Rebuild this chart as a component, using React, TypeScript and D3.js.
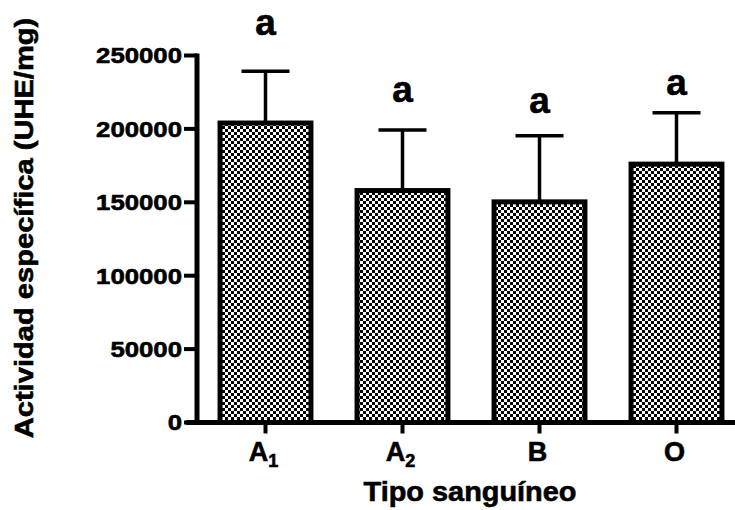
import React from 'react';
import * as d3 from 'd3';

const categories = ['A', 'A', 'B', 'O'];
const subscripts = ['1', '2', '', ''];
const means = [204000, 158000, 150300, 176000];
const sems = [35200, 41200, 45000, 35000];
const letters = ['a', 'a', 'a', 'a'];
const letterValues = [264000, 218200, 211000, 223000];
const yTicks = [0, 50000, 100000, 150000, 200000, 250000];
const yTitle = 'Actividad específica (UHE/mg)';
const xTitle = 'Tipo sanguíneo';

const FONT = "'Liberation Sans', Arial, Helvetica, sans-serif";

export default function App() {
  const W = 735, H = 510;
  const idx = d3.range(categories.length);
  const x = d3.scaleBand<number>().domain(idx).range([197, 745]).paddingInner(0.3).paddingOuter(0.15);
  const y = d3.scaleLinear().domain([0, 250000]).range([422.5, 55.5]);
  const bw = x.bandwidth();
  const axisX = 197;
  const y0 = y(0);
  const ts = { stroke: '#000', strokeWidth: 0.6 };

  return (
    <svg width={W} height={H} style={{ position: 'absolute', left: 0, top: 0, background: '#fff' }} fontFamily={FONT} fontWeight="bold">
      <defs>
        <pattern id="checker" patternUnits="userSpaceOnUse" width={6} height={6}>
          <rect x={0} y={0} width={6} height={6} fill="#fff" />
          <rect x={0} y={0} width={3} height={3} fill="#000" shapeRendering="crispEdges" />
          <rect x={3} y={3} width={3} height={3} fill="#000" shapeRendering="crispEdges" />
        </pattern>
      </defs>
      <rect x={0} y={0} width={W} height={H} fill="#fff" />

      {/* error bars */}
      {idx.map(i => {
        const cx = (x(i) as number) + bw / 2;
        return (
          <g key={'e' + i} stroke="#000" strokeWidth={3.5}>
            <line x1={cx} x2={cx} y1={y(means[i])} y2={y(means[i] + sems[i])} />
            <line x1={cx - 24} x2={cx + 24} y1={y(means[i] + sems[i])} y2={y(means[i] + sems[i])} />
          </g>
        );
      })}

      {/* bars */}
      {idx.map(i => (
        <rect key={'b' + i}
          x={(x(i) as number) + 2.5}
          y={y(means[i])}
          width={bw - 5}
          height={y0 - y(means[i])}
          fill="url(#checker)" stroke="#000" strokeWidth={5} />
      ))}

      {/* axes */}
      <line x1={axisX} x2={axisX} y1={y(250000) - 2} y2={y0 + 2.5} stroke="#000" strokeWidth={5} />
      {yTicks.map(t => (
        <line key={'yt' + t} x1={184} x2={axisX} y1={y(t)} y2={y(t)} stroke="#000" strokeWidth={4} />
      ))}
      <line x1={186} x2={745} y1={y0} y2={y0} stroke="#000" strokeWidth={5} />
      {idx.map(i => {
        const cx = (x(i) as number) + bw / 2;
        return <line key={'xt' + i} x1={cx} x2={cx} y1={y0} y2={y0 + 11} stroke="#000" strokeWidth={4} />;
      })}

      {/* y tick labels */}
      {yTicks.map(t => (
        <g key={'yl' + t} transform={`translate(182,${y(t) + 7.8}) scale(1.17,1)`}>
          <text x={0} y={0} textAnchor="end" fontSize={22} fill="#000" {...ts}>{String(t)}</text>
        </g>
      ))}

      {/* x tick labels */}
      {idx.map(i => {
        const cx = (x(i) as number) + bw / 2;
        return (
          <text key={'xl' + i} x={cx - 2} y={461} textAnchor="middle" fontSize={27} fill="#000" {...ts}>
            <tspan>{categories[i]}</tspan>
            {subscripts[i] ? <tspan dy={6} fontSize={18}>{subscripts[i]}</tspan> : null}
          </text>
        );
      })}

      {/* significance letters */}
      {idx.map(i => {
        const cx = (x(i) as number) + bw / 2;
        return (
          <text key={'l' + i} x={cx} y={y(letterValues[i])} textAnchor="middle" fontSize={37} fill="#000" {...ts}>{letters[i]}</text>
        );
      })}

      {/* axis titles */}
      <g transform="translate(470,501) scale(1.07,1)">
        <text x={0} y={0} textAnchor="middle" fontSize={27} fill="#000" {...ts}>{xTitle}</text>
      </g>
      <g transform="translate(33,228) rotate(-90) scale(1.12,1)">
        <text x={0} y={0} textAnchor="middle" fontSize={26} fill="#000" {...ts}>{yTitle}</text>
      </g>
    </svg>
  );
}
